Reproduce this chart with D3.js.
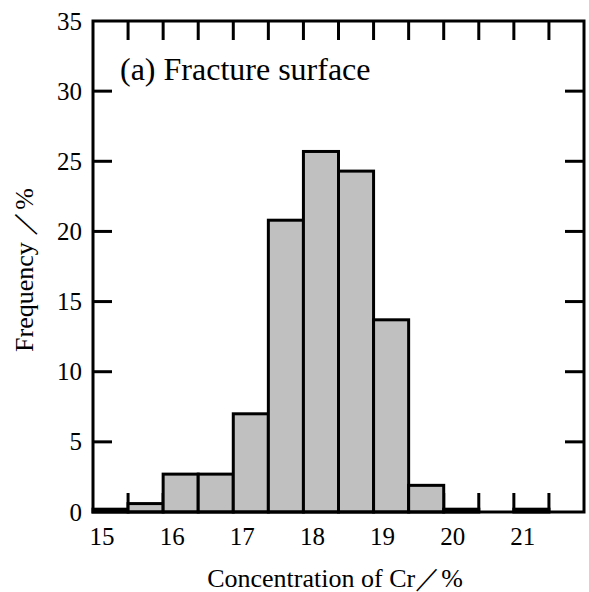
<!DOCTYPE html>
<html>
<head>
<meta charset="utf-8">
<script src="https://cdn.jsdelivr.net/npm/d3@7"></script>
<style>
  body { margin: 0; background: #fff; }
</style>
</head>
<body>
<svg id="chart" width="589" height="592" font-family="'Liberation Serif', serif"></svg>
<script>
// bins are 0.5 wide, they start at 14.9
var binStart = [14.9, 15.4, 15.9, 16.4, 16.9, 17.4, 17.9, 18.4, 18.9, 19.4, 19.9, 20.4, 20.9];
var freq = [0.2, 0.6, 2.7, 2.7, 7.0, 20.8, 25.7, 24.3, 13.7, 1.9, 0.2, 0, 0.2];
var binWidth = 0.5;
var xLabels = [15, 16, 17, 18, 19, 20, 21];
var edgeTicks = [15.4, 15.9, 16.4, 16.9, 17.4, 17.9, 18.4, 18.9, 19.4, 19.9, 20.4, 20.9, 21.4];
var yTicks = [0, 5, 10, 15, 20, 25, 30, 35];

var svg = d3.select("#chart"),
    margin = {top: 21, left: 93, bottom: 80, right: 5},
    width = +svg.attr("width"),
    height = +svg.attr("height");

var x = d3.scaleLinear()
  .domain([14.9, 21.9])
  .range([margin.left, width - margin.right]);

var y = d3.scaleLinear()
  .domain([0, 35])
  .range([height - margin.bottom, margin.top]);

var tickLen = 19, sw = 3;

var data = binStart.map((s, i) => ({x0: s, x1: s + binWidth, v: freq[i]}));

// ticks pointing inward on all four sides
var ticks = svg.append("g")
  .attr("stroke", "#000")
  .attr("stroke-width", sw);

ticks.selectAll(".tt").data(edgeTicks).enter().append("line")
  .attr("x1", d => x(d)).attr("x2", d => x(d))
  .attr("y1", y(35)).attr("y2", y(35) + tickLen);

ticks.selectAll(".bt").data(edgeTicks).enter().append("line")
  .attr("x1", d => x(d)).attr("x2", d => x(d))
  .attr("y1", y(0)).attr("y2", y(0) - tickLen);

ticks.selectAll(".lt").data(yTicks.slice(1, -1)).enter().append("line")
  .attr("x1", x(14.9)).attr("x2", x(14.9) + tickLen)
  .attr("y1", d => y(d)).attr("y2", d => y(d));

ticks.selectAll(".rt").data(yTicks.slice(1, -1)).enter().append("line")
  .attr("x1", x(21.9)).attr("x2", x(21.9) - tickLen)
  .attr("y1", d => y(d)).attr("y2", d => y(d));

// bars
svg.selectAll(".bar")
  .data(data.filter(d => d.v > 0))
  .enter().append("rect")
  .attr("class", "bar")
  .attr("x", d => x(d.x0))
  .attr("y", d => y(d.v))
  .attr("width", d => x(d.x1) - x(d.x0))
  .attr("height", d => y(0) - y(d.v))
  .attr("fill", "#c0c0c0")
  .attr("stroke", "#000")
  .attr("stroke-width", sw);

// frame
svg.append("rect")
  .attr("x", x(14.9)).attr("y", y(35))
  .attr("width", x(21.9) - x(14.9))
  .attr("height", y(0) - y(35))
  .attr("fill", "none")
  .attr("stroke", "#000")
  .attr("stroke-width", sw);

// tick labels
svg.selectAll(".ylab").data(yTicks).enter().append("text")
  .attr("x", x(14.9) - 11)
  .attr("y", d => y(d))
  .attr("dy", "0.34em")
  .attr("text-anchor", "end")
  .attr("font-size", 25)
  .text(d => d);

svg.selectAll(".xlab").data(xLabels).enter().append("text")
  .attr("x", d => x(d) + 2)
  .attr("y", y(0) + 33)
  .attr("text-anchor", "middle")
  .attr("font-size", 25)
  .text(d => d);

// titles
svg.append("text")
  .attr("x", 120)
  .attr("y", 80)
  .attr("font-size", 32)
  .text("(a) Fracture surface");

svg.append("text")
  .attr("transform", "translate(33,270) rotate(-90)")
  .attr("text-anchor", "middle")
  .attr("font-size", 26)
  .text("Frequency ／%");

svg.append("text")
  .attr("x", 335)
  .attr("y", 587)
  .attr("text-anchor", "middle")
  .attr("font-size", 26)
  .text("Concentration of Cr／%");
</script>
</body>
</html>
